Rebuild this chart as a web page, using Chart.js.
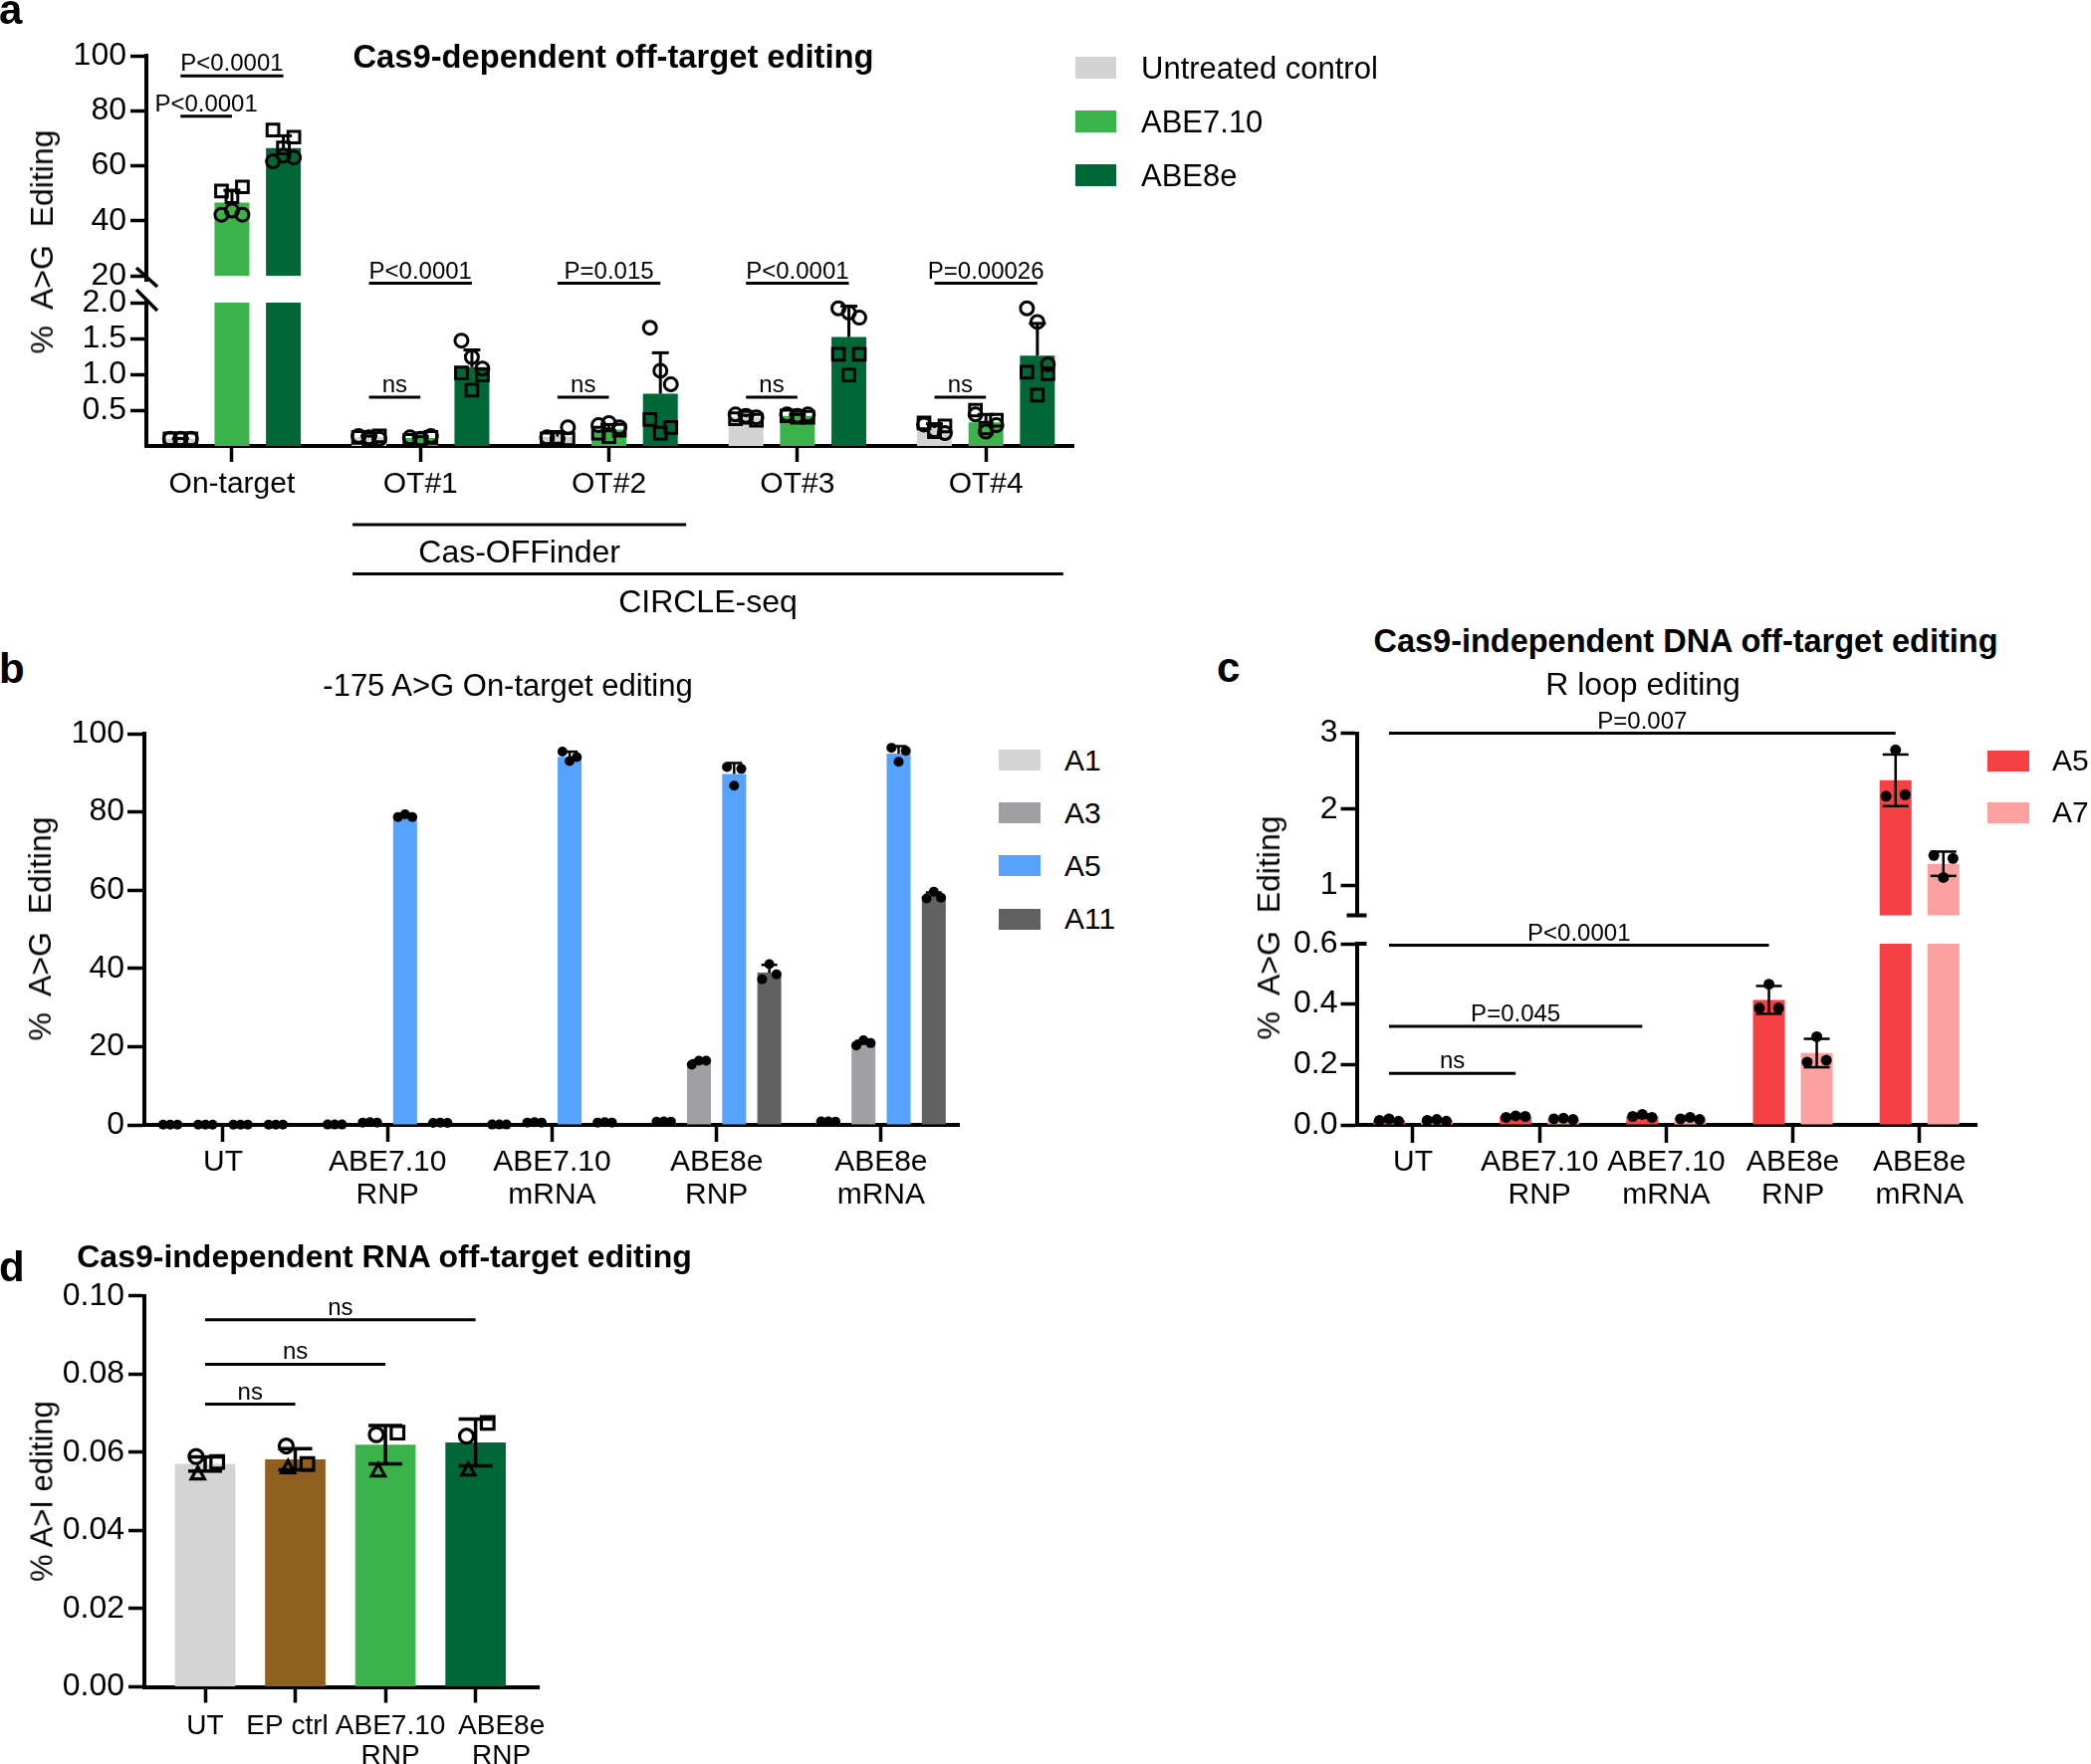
<!DOCTYPE html>
<html>
<head>
<meta charset="utf-8">
<script src="https://cdn.jsdelivr.net/npm/chart.js@4.4.1/dist/chart.umd.min.js"></script>
<style>
  html, body { margin: 0; padding: 0; background: #fff; }
  #page { position: relative; width: 2100px; height: 1772px; overflow: hidden; background: #fff;
          font-family: 'Liberation Sans', Arial, sans-serif; color: #000; }
  #page canvas { position: absolute; }
  .txt { position: absolute; white-space: pre; line-height: 1; }
  .box { position: absolute; }
</style>
</head>
<body>
<div id="page">
  <canvas id="aTop" width="1110" height="290" style="left:0px;top:20px"></canvas>
  <canvas id="aBottom" width="1110" height="390" style="left:0px;top:240px"></canvas>
  <canvas id="bChart" width="1000" height="520" style="left:0px;top:700px"></canvas>
  <canvas id="cTop" width="900" height="250" style="left:1200px;top:700px"></canvas>
  <canvas id="cBottom" width="900" height="310" style="left:1200px;top:910px"></canvas>
  <canvas id="dChart" width="600" height="507" style="left:0px;top:1265px"></canvas>
</div>
<script>
// ---------- panel a : Cas9-dependent off-target editing ----------
const aCategories = ['On-target', 'OT#1', 'OT#2', 'OT#3', 'OT#4'];
const aSeries = ['Untreated control', 'ABE7.10', 'ABE8e'];
const aColors = ['#d3d3d3', '#39b34a', '#006837'];
const aUntreated = [0.1, 0.12, 0.13, 0.4, 0.25];
const aAbe710 = [46.6, 0.11, 0.23, 0.42, 0.33];
const aAbe8e = [66.4, 1.1, 0.73, 1.52, 1.26];
const aUntreatedSd = [0.005, 0.02, 0.06, 0.03, 0.06];
const aAbe710Sd = [4.5, 0.02, 0.07, 0.02, 0.11];
const aAbe8eSd = [4.5, 0.24, 0.57, 0.43, 0.45];
// replicates: three circles then three squares
const aUntreatedReps = [
  [0.1, 0.1, 0.1, 0.1, 0.1, 0.1],
  [0.14, 0.12, 0.1, 0.12, 0.14, 0.1],
  [0.12, 0.1, 0.26, 0.1, 0.1, 0.12],
  [0.44, 0.42, 0.4, 0.38, 0.36, 0.4],
  [0.3, 0.22, 0.18, 0.32, 0.28, 0.2]
];
const aAbe710Reps = [
  [42.2, 43.7, 42.2, 50.8, 52.3, 48.7],
  [0.12, 0.1, 0.14, 0.08, 0.12, 0.1],
  [0.29, 0.32, 0.26, 0.18, 0.22, 0.13],
  [0.44, 0.42, 0.44, 0.42, 0.4, 0.4],
  [0.44, 0.2, 0.29, 0.5, 0.36, 0.25]
];
const aAbe8eReps = [
  [61.6, 63.7, 63.0, 73.0, 70.4, 66.5],
  [1.47, 1.24, 1.08, 1.02, 0.99, 0.78],
  [1.65, 1.05, 0.86, 0.37, 0.26, 0.18],
  [1.92, 1.86, 1.79, 1.28, 1.28, 0.99],
  [1.92, 1.73, 1.14, 1.03, 1.01, 0.71]
];
const aTopTicks = [20, 40, 60, 80, 100];
const aBottomTicks = [0.5, 1.0, 1.5, 2.0];
// brackets: from/to = [category, series]
const aTopBrackets = [
  { from: [0, 0], to: [0, 2], y: 92.7, text: 'P<0.0001' },
  { from: [0, 0], to: [0, 1], y: 78, text: 'P<0.0001' }
];
const aBottomBrackets = [
  { from: [1, 0], to: [1, 2], y: 2.27, text: 'P<0.0001' },
  { from: [1, 0], to: [1, 1], y: 0.68, text: 'ns' },
  { from: [2, 0], to: [2, 2], y: 2.27, text: 'P=0.015' },
  { from: [2, 0], to: [2, 1], y: 0.68, text: 'ns' },
  { from: [3, 0], to: [3, 2], y: 2.27, text: 'P<0.0001' },
  { from: [3, 0], to: [3, 1], y: 0.68, text: 'ns' },
  { from: [4, 0], to: [4, 2], y: 2.27, text: 'P=0.00026' },
  { from: [4, 0], to: [4, 1], y: 0.68, text: 'ns' }
];
const aGroups = [
  { text: 'Cas-OFFinder', from: 1, to: 2 },
  { text: 'CIRCLE-seq', from: 1, to: 4 }
];

// ---------- panel b : -175 A>G on-target editing ----------
const bCategories = [['UT'], ['ABE7.10', 'RNP'], ['ABE7.10', 'mRNA'], ['ABE8e', 'RNP'], ['ABE8e', 'mRNA']];
const bSeries = ['A1', 'A3', 'A5', 'A11'];
const bColors = ['#d4d4d4', '#a0a0a4', '#55a2ff', '#616161'];
const bA1 = [0.05, 0.1, 0.1, 0.8, 0.9];
const bA3 = [0.05, 0.6, 0.6, 16.0, 20.9];
const bA5 = [0.05, 78.9, 94.1, 89.7, 94.9];
const bA11 = [0.05, 0.5, 0.6, 38.9, 58.5];
const bA1Sd = [0, 0, 0, 0.05, 0.05];
const bA3Sd = [0, 0.05, 0.05, 0.5, 0.6];
const bA5Sd = [0, 0.4, 1.3, 2.8, 1.9];
const bA11Sd = [0, 0.05, 0.05, 2.0, 0.9];
const bA1Reps = [[0.05, 0.05, 0.05], [0.1, 0.1, 0.1], [0.1, 0.1, 0.1], [0.8, 0.9, 0.8], [0.9, 0.9, 0.8]];
const bA3Reps = [[0.05, 0.05, 0.05], [0.6, 0.7, 0.6], [0.6, 0.7, 0.6], [15.4, 16.4, 16.4], [20.3, 21.6, 20.9]];
const bA5Reps = [[0.05, 0.05, 0.05], [78.7, 79.4, 78.7], [95.4, 93.0, 94.0], [91.5, 86.7, 91.0], [96.4, 92.8, 95.6]];
const bA11Reps = [[0.05, 0.05, 0.05], [0.5, 0.6, 0.5], [0.6, 0.7, 0.6], [37.2, 41.1, 38.5], [57.9, 59.6, 58.1]];
const bTicks = [0, 20, 40, 60, 80, 100];

// ---------- panel c : R loop editing ----------
const cCategories = [['UT'], ['ABE7.10', 'RNP'], ['ABE7.10', 'mRNA'], ['ABE8e', 'RNP'], ['ABE8e', 'mRNA']];
const cSeries = ['A5', 'A7'];
const cColors = ['#f64144', '#fba1a1'];
const cA5 = [0.016, 0.028, 0.029, 0.414, 2.38];
const cA7 = [0.015, 0.02, 0.021, 0.238, 1.28];
const cA5Sd = [0.003, 0.003, 0.005, 0.046, 0.34];
const cA7Sd = [0.003, 0.002, 0.004, 0.047, 0.16];
const cA5Reps = [[0.02, 0.015, 0.012], [0.03, 0.025, 0.028], [0.035, 0.028, 0.025], [0.466, 0.387, 0.387], [2.78, 2.17, 2.19]];
const cA7Reps = [[0.018, 0.015, 0.012], [0.022, 0.02, 0.018], [0.025, 0.02, 0.018], [0.292, 0.208, 0.214], [1.1, 1.39, 1.35]];
const cTopTicks = [1, 2, 3];
const cBottomTicks = [0, 0.2, 0.4, 0.6];
const cTopBrackets = [
  { from: [0, 0], to: [4, 0], y: 3.0, text: 'P=0.007' }
];
const cBottomBrackets = [
  { from: [0, 0], to: [3, 0], y: 0.595, text: 'P<0.0001' },
  { from: [0, 0], to: [2, 0], y: 0.326, text: 'P=0.045' },
  { from: [0, 0], to: [1, 0], y: 0.171, text: 'ns' }
];

// ---------- panel d : Cas9-independent RNA off-target editing ----------
const dCategories = [['UT'], ['EP ctrl'], ['ABE7.10', 'RNP'], ['ABE8e', 'RNP']];
const dColors = ['#d4d4d4', '#8f5f1f', '#39b34a', '#006837'];
const dValues = [0.057, 0.0582, 0.0619, 0.0625];
const dSd = [0.0018, 0.0027, 0.0049, 0.006];
// replicates: circle, square, triangle
const dReps = [
  [0.0589, 0.0575, 0.0545],
  [0.0616, 0.057, 0.0561],
  [0.0645, 0.065, 0.0553],
  [0.0641, 0.0675, 0.0555]
];
const dTicks = [0, 0.02, 0.04, 0.06, 0.08, 0.10];
const dBrackets = [
  { from: [0, 0], to: [3, 0], y: 0.0939, text: 'ns' },
  { from: [0, 0], to: [2, 0], y: 0.0825, text: 'ns' },
  { from: [0, 0], to: [1, 0], y: 0.0723, text: 'ns' }
];

const FONT = "'Liberation Sans', Arial, sans-serif";
Chart.defaults.font.family = FONT;
Chart.defaults.font.size = 32;
Chart.defaults.color = '#000';

function seg(ctx, x1, y1, x2, y2) {
  ctx.beginPath();
  ctx.moveTo(x1, y1);
  ctx.lineTo(x2, y2);
  ctx.stroke();
}

function marker(ctx, shape, x, y, r) {
  ctx.beginPath();
  if (shape === 'dot') {
    ctx.arc(x, y, r, 0, Math.PI * 2);
    ctx.fill();
    return;
  }
  if (shape === 'circle') ctx.arc(x, y, r, 0, Math.PI * 2);
  else if (shape === 'square') ctx.rect(x - r * 0.9, y - r * 0.9, r * 1.8, r * 1.8);
  else {
    ctx.moveTo(x, y - r);
    ctx.lineTo(x + r * 0.95, y + r * 0.75);
    ctx.lineTo(x - r * 0.95, y + r * 0.75);
    ctx.closePath();
  }
  ctx.stroke();
}

// error bars, replicate points, brackets, axis breaks
function makeMarks(c) {
  return {
    id: 'marks',
    afterDatasetsDraw(chart) {
      const ctx = chart.ctx;
      const xs = chart.scales.x, ys = chart.scales.y, area = chart.chartArea;
      const inRange = v => v >= ys.min - 1e-9 && v <= ys.max + 1e-9;
      const barAt = (cat, ds) => chart.getDatasetMeta(ds).data[cat];
      ctx.save();
      ctx.strokeStyle = '#000';
      ctx.fillStyle = '#000';

      ctx.lineWidth = c.errWidth;
      c.values.forEach((vals, i) => {
        vals.forEach((m, j) => {
          const sd = c.sds[i][j];
          if (!sd || !inRange(m)) return;
          const bar = barAt(j, i);
          const top = ys.getPixelForValue(m + sd);
          const low = ys.getPixelForValue(c.bothSides ? m - sd : m);
          seg(ctx, bar.x, low, bar.x, top);
          seg(ctx, bar.x - c.cap / 2, top, bar.x + c.cap / 2, top);
          if (c.bothSides) seg(ctx, bar.x - c.cap / 2, low, bar.x + c.cap / 2, low);
        });
      });

      ctx.lineWidth = c.markWidth;
      c.reps.forEach((perCat, i) => {
        perCat.forEach((list, j) => {
          const bar = barAt(j, i);
          list.forEach((v, k) => {
            if (!inRange(v)) return;
            const px = bar.x + c.jitter[k % c.jitter.length] * bar.width;
            marker(ctx, c.shapes[k % c.shapes.length], px, ys.getPixelForValue(v), c.markR);
          });
        });
      });

      ctx.lineWidth = 3;
      ctx.font = '24px ' + FONT;
      ctx.textAlign = 'center';
      ctx.textBaseline = 'alphabetic';
      (c.brackets || []).forEach(b => {
        const x1 = barAt(b.from[0], b.from[1]).x;
        const x2 = barAt(b.to[0], b.to[1]).x;
        const y = ys.getPixelForValue(b.y);
        seg(ctx, x1, y, x2, y);
        ctx.fillText(b.text, (x1 + x2) / 2, y - 5);
      });

      ctx.font = '32px ' + FONT;
      (c.groups || []).forEach((g, n) => {
        const x1 = xs.getPixelForValue(g.from - 0.36);
        const x2 = xs.getPixelForValue(g.to + 0.41);
        const y = area.bottom + 79 + n * 49.5;
        seg(ctx, x1, y, x2, y);
        ctx.fillText(g.text, (x1 + x2) / 2, y + 38);
      });

      // category labels drawn by hand where they are nudged apart
      if (c.labelShift) {
        ctx.font = c.labelSize + 'px ' + FONT;
        c.cats.forEach((lines, i) => {
          const x = xs.getPixelForValue(i) + c.labelShift[i];
          lines.forEach((t, n) => {
            ctx.fillText(t, x, area.bottom + c.labelFirst + n * c.labelStep + 0.358 * c.labelSize);
          });
        });
      }

      const ax = area.left;
      if (c.brk === 'slashBottom') {
        ctx.lineWidth = 4;
        seg(ctx, ax, area.bottom, ax, area.bottom + 6);
        ctx.lineWidth = 3.5;
        seg(ctx, ax - 10, area.bottom - 8, ax + 11, area.bottom + 11);
      } else if (c.brk === 'slashTop') {
        ctx.lineWidth = 4;
        seg(ctx, ax, area.top - 4, ax, area.top);
        ctx.lineWidth = 3.5;
        seg(ctx, ax - 10, area.top - 13, ax + 11, area.top + 8);
      } else if (c.brk === 'capBottom') {
        ctx.lineWidth = 4;
        seg(ctx, ax - 10, area.bottom, ax + 10, area.bottom);
      } else if (c.brk === 'capTop') {
        ctx.lineWidth = 4;
        seg(ctx, ax, area.top, ax + 10, area.top);
      }
      ctx.restore();
    }
  };
}

function barChart(id, c) {
  const canvas = document.getElementById(id);
  const W = canvas.width, H = canvas.height;
  const axisLine = { display: true, color: '#000', width: 4 };
  const tickGrid = len => ({ display: true, drawOnChartArea: false, drawTicks: true, offset: false,
    tickLength: len, tickWidth: 3.5, tickColor: '#000' });
  return new Chart(canvas, {
    type: 'bar',
    data: {
      datasets: c.values.map((vals, i) => ({
        label: c.names[i],
        data: vals.map((v, j) => ({ x: j, y: v })),
        backgroundColor: c.perBar ? c.colors : c.colors[i],
        borderWidth: 0,
        categoryPercentage: c.catPct,
        barPercentage: c.barPct,
        clip: 0
      }))
    },
    options: {
      responsive: false,
      animation: false,
      devicePixelRatio: 1,
      events: [],
      layout: { padding: { left: 0, top: c.area.top, right: W - c.area.right,
        bottom: c.cats ? 0 : H - c.area.bottom } },
      plugins: { legend: { display: false }, tooltip: { enabled: false } },
      scales: {
        x: {
          type: 'linear', min: c.xMin, max: c.xMax, offset: false, bounds: 'data',
          display: !!c.cats,
          grid: tickGrid(c.xTick || 16),
          border: axisLine,
          ticks: { autoSkip: false, maxRotation: 0, minRotation: 0, padding: c.xPad || 3,
            font: { size: c.xSize || 30, lineHeight: c.xLine || 1.1 },
            callback: v => (c.cats && !c.labelShift ? c.cats[v] : '') },
          afterBuildTicks: s => { s.ticks = c.values[0].map((_, i) => ({ value: i })); },
          afterFit: s => { if (c.cats) s.height = H - c.area.bottom; }
        },
        y: {
          min: c.yMin, max: c.yMax, bounds: 'data',
          grid: tickGrid(c.yTick || 16),
          border: axisLine,
          ticks: { padding: c.yPad || 3, callback: v => c.yFmt(v) },
          afterBuildTicks: s => { s.ticks = c.yTicks.map(v => ({ value: v })); },
          afterFit: s => { s.width = c.area.left; }
        }
      }
    },
    plugins: [makeMarks(c)]
  });
}

// panel a, broken axis: upper and lower parts
const aCommon = {
  names: aSeries, colors: aColors,
  values: [aUntreated, aAbe710, aAbe8e],
  sds: [aUntreatedSd, aAbe710Sd, aAbe8eSd],
  reps: [aUntreatedReps, aAbe710Reps, aAbe8eReps],
  shapes: ['circle', 'circle', 'circle', 'square', 'square', 'square'],
  jitter: [-0.3, 0, 0.3, -0.3, 0.3, 0],
  markR: 6.5, markWidth: 3, errWidth: 3, cap: 17,
  xMin: -0.454, xMax: 4.464, catPct: 0.819, barPct: 0.677, yPad: 4
};
barChart('aTop', Object.assign({}, aCommon, {
  cats: null, area: { left: 147, top: 36, right: 1078, bottom: 257 },
  yMin: 20, yMax: 100, yTicks: aTopTicks, yFmt: v => String(v),
  brackets: aTopBrackets, brk: 'slashBottom'
}));
barChart('aBottom', Object.assign({}, aCommon, {
  cats: aCategories, area: { left: 147, top: 64, right: 1078, bottom: 208 },
  yMin: 0, yMax: 2, yTicks: aBottomTicks, yFmt: v => v.toFixed(1),
  xPad: 5, xLine: 1.2,
  brackets: aBottomBrackets, groups: aGroups, brk: 'slashTop'
}));

// panel b
barChart('bChart', {
  names: bSeries, colors: bColors, cats: bCategories,
  values: [bA1, bA3, bA5, bA11],
  sds: [bA1Sd, bA3Sd, bA5Sd, bA11Sd],
  reps: [bA1Reps, bA3Reps, bA5Reps, bA11Reps],
  shapes: ['dot'], jitter: [-0.3, 0, 0.3],
  markR: 5, markWidth: 2, errWidth: 2.5, cap: 16,
  area: { left: 145, top: 37, right: 963, bottom: 430 },
  xMin: -0.478, xMax: 4.473, catPct: 0.855, barPct: 0.68,
  yMin: 0, yMax: 100, yTicks: bTicks, yFmt: v => String(v),
  xTick: 17, yTick: 17, xPad: 4, yPad: 3
});

// panel c, broken axis
const cCommon = {
  names: cSeries, colors: cColors,
  values: [cA5, cA7], sds: [cA5Sd, cA7Sd], reps: [cA5Reps, cA7Reps],
  shapes: ['dot'], jitter: [0, -0.3, 0.3], bothSides: true,
  markR: 5.5, markWidth: 2, errWidth: 2.5, cap: 26,
  xMin: -0.444, xMax: 4.45, catPct: 0.755, barPct: 0.667, yPad: 3
};
barChart('cTop', Object.assign({}, cCommon, {
  cats: null, area: { left: 162.5, top: 36.6, right: 785, bottom: 219.5 },
  yMin: 0.6, yMax: 3, yTicks: cTopTicks, yFmt: v => String(v),
  brackets: cTopBrackets, brk: 'capBottom'
}));
barChart('cBottom', Object.assign({}, cCommon, {
  cats: cCategories, area: { left: 162.5, top: 38, right: 785, bottom: 220 },
  yMin: 0, yMax: 0.6, yTicks: cBottomTicks, yFmt: v => v.toFixed(1),
  xTick: 18, xPad: 3,
  brackets: cBottomBrackets, brk: 'capTop'
}));

// panel d
barChart('dChart', {
  names: ['% A>I editing'], colors: dColors, perBar: true, cats: dCategories,
  values: [dValues], sds: [dSd], reps: [dReps],
  shapes: ['circle', 'square', 'triangle'], jitter: [-0.15, 0.2, -0.12], bothSides: true,
  markR: 7, markWidth: 3.2, errWidth: 3.5, cap: 34,
  area: { left: 145, top: 36.7, right: 541, bottom: 429.5 },
  xMin: -0.674, xMax: 3.70, catPct: 1, barPct: 0.67,
  yMin: 0, yMax: 0.1, yTicks: dTicks, yFmt: v => v.toFixed(2),
  yPad: 4, brackets: dBrackets,
  labelShift: [0, -8, 5, 26], labelSize: 28, labelFirst: 37.5, labelStep: 30
});

// ---------- text, legends ----------
const page = document.getElementById('page');
function addText(str, x, y, size, opts) {
  opts = opts || {};
  const el = document.createElement('div');
  el.className = 'txt';
  el.textContent = str;
  el.style.left = x + 'px';
  el.style.top = y + 'px';
  el.style.fontSize = size + 'px';
  if (opts.bold) el.style.fontWeight = 'bold';
  const tx = opts.left ? '0' : '-50%';
  el.style.transform = 'translate(' + tx + ', -50%)' + (opts.rotate ? ' rotate(-90deg)' : '');
  page.appendChild(el);
}
function addLegend(names, colors, boxLeft, firstY, step, boxW, boxH, textLeft, size) {
  names.forEach((n, i) => {
    const y = firstY + i * step;
    const b = document.createElement('div');
    b.className = 'box';
    b.style.left = boxLeft + 'px';
    b.style.top = (y - boxH / 2) + 'px';
    b.style.width = boxW + 'px';
    b.style.height = boxH + 'px';
    b.style.background = colors[i];
    page.appendChild(b);
    addText(n, textLeft, y, size, { left: true });
  });
}

// panel letters
addText('a', -1, 9.5, 42, { bold: true, left: true });
addText('b', -1, 671.5, 42, { bold: true, left: true });
addText('c', 1222, 670.5, 42, { bold: true, left: true });
addText('d', -1, 1272.5, 42, { bold: true, left: true });

// titles
addText('Cas9-dependent off-target editing', 616, 57, 32.7, { bold: true });
addText('-175 A>G On-target editing', 510, 688, 31);
addText('Cas9-independent DNA off-target editing', 1693, 644, 32.5, { bold: true });
addText('R loop editing', 1650, 687, 32);
addText('Cas9-independent RNA off-target editing', 386, 1262, 32, { bold: true });

// axis titles
addText('%  A>G  Editing', 42, 243, 32, { rotate: true });
addText('%  A>G  Editing', 40, 933, 32, { rotate: true });
addText('%  A>G  Editing', 1273.5, 932, 32, { rotate: true });
addText('% A>I editing', 42, 1498, 31, { rotate: true });

// legends
addLegend(aSeries, aColors, 1080, 68, 54, 41, 22, 1146, 31);
addLegend(bSeries, bColors, 1003, 763.5, 53.2, 42, 21, 1069, 30);
addLegend(cSeries, cColors, 1996, 764, 52, 42, 21, 2061, 30);
</script>
</body>
</html>
